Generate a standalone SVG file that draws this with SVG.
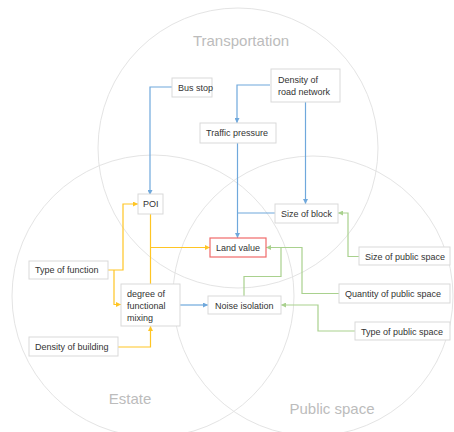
<svg xmlns="http://www.w3.org/2000/svg" width="454" height="432" viewBox="0 0 454 432">
  <style>
    .area { fill: none; stroke: #e4e4e4; stroke-width: 1; }
    .area-label { font-family: "Liberation Sans", Arial, sans-serif; font-size: 15px; fill: #bcbcbc; text-anchor: middle; }
    .box { fill: #ffffff; stroke: #d9d9d9; stroke-width: 1; }
    .box-key { fill: #ffffff; stroke: #f06a6a; stroke-width: 1.2; }
    .label { font-family: "Liberation Sans", Arial, sans-serif; font-size: 9px; fill: #333333; }
    .blue { fill: none; stroke: #6fa8dc; stroke-width: 1.2; }
    .yellow { fill: none; stroke: #ffc524; stroke-width: 1.2; }
    .green { fill: none; stroke: #a9d18e; stroke-width: 1.2; }
  </style>
  <defs>
    <marker id="arrow-blue" viewBox="0 0 6 6" refX="6" refY="3" markerWidth="5" markerHeight="5" markerUnits="userSpaceOnUse" orient="auto">
      <path d="M0,0 L6,3 L0,6 z" fill="#6fa8dc"/>
    </marker>
    <marker id="arrow-yellow" viewBox="0 0 6 6" refX="6" refY="3" markerWidth="5" markerHeight="5" markerUnits="userSpaceOnUse" orient="auto">
      <path d="M0,0 L6,3 L0,6 z" fill="#ffc524"/>
    </marker>
    <marker id="arrow-green" viewBox="0 0 6 6" refX="6" refY="3" markerWidth="5" markerHeight="5" markerUnits="userSpaceOnUse" orient="auto">
      <path d="M0,0 L6,3 L0,6 z" fill="#a9d18e"/>
    </marker>
  </defs>

  <!-- three overlapping domains -->
  <g id="areas">
    <circle class="area" cx="238" cy="148" r="140"/>
    <circle class="area" cx="153" cy="296" r="141"/>
    <circle class="area" cx="313" cy="296" r="140"/>
    <text class="area-label" x="241" y="46">Transportation</text>
    <text class="area-label" x="130" y="404">Estate</text>
    <text class="area-label" x="332" y="414">Public space</text>
  </g>

  <!-- connectors -->
  <g id="connectors">
    <!-- transportation factors -->
    <path class="blue" d="M172,87 H150 V195" marker-end="url(#arrow-blue)"/>
    <path class="blue" d="M270,85 H237 V123" marker-end="url(#arrow-blue)"/>
    <path class="blue" d="M305.5,102 V204" marker-end="url(#arrow-blue)"/>
    <path class="blue" d="M237.5,143 V238" marker-end="url(#arrow-blue)"/>
    <path class="blue" d="M275,213 H237.5"/>
    <path class="blue" d="M180,305 H208" marker-end="url(#arrow-blue)"/>
    <!-- estate factors -->
    <path class="yellow" d="M150.5,213 V284"/>
    <path class="yellow" d="M150.5,247.5 H210" marker-end="url(#arrow-yellow)"/>
    <path class="yellow" d="M108,270 H123 V204 H138" marker-end="url(#arrow-yellow)"/>
    <path class="yellow" d="M114,270 V304.5 H121" marker-end="url(#arrow-yellow)"/>
    <path class="yellow" d="M118,347 H150.5 V326" marker-end="url(#arrow-yellow)"/>
    <!-- public space factors -->
    <path class="green" d="M359,256.5 H348 V213 H338" marker-end="url(#arrow-green)"/>
    <path class="green" d="M339,293.5 H302 V247.5 H266" marker-end="url(#arrow-green)"/>
    <path class="green" d="M244,296 V276.5 H281 V247.5"/>
    <path class="green" d="M355,331 H318 V305 H281" marker-end="url(#arrow-green)"/>
  </g>

  <!-- nodes -->
  <g id="bus-stop">
    <rect class="box" x="172" y="78" width="40" height="19"/>
    <text class="label" x="178" y="90.5">Bus stop</text>
  </g>
  <g id="road-density">
    <rect class="box" x="271" y="69" width="69" height="33"/>
    <text class="label" x="278" y="83">Density of</text>
    <text class="label" x="278" y="95">road network</text>
  </g>
  <g id="traffic-pressure">
    <rect class="box" x="200" y="123" width="76" height="20"/>
    <text class="label" x="206" y="136">Traffic pressure</text>
  </g>
  <g id="poi">
    <rect class="box" x="138" y="194" width="25" height="20"/>
    <text class="label" x="143" y="207">POI</text>
  </g>
  <g id="size-of-block">
    <rect class="box" x="275" y="204" width="63" height="19"/>
    <text class="label" x="281" y="216.5">Size of block</text>
  </g>
  <g id="land-value">
    <rect class="box-key" x="210" y="238" width="56" height="19"/>
    <text class="label" x="216" y="250.5">Land value</text>
  </g>
  <g id="type-of-function">
    <rect class="box" x="29" y="261" width="79" height="18"/>
    <text class="label" x="35" y="273">Type of function</text>
  </g>
  <g id="functional-mixing">
    <rect class="box" x="121" y="284" width="59" height="42"/>
    <text class="label" x="127" y="296.5">degree of</text>
    <text class="label" x="127" y="308.5">functional</text>
    <text class="label" x="127" y="320.5">mixing</text>
  </g>
  <g id="noise-isolation">
    <rect class="box" x="208" y="296" width="73" height="18"/>
    <text class="label" x="215" y="308.5">Noise isolation</text>
  </g>
  <g id="building-density">
    <rect class="box" x="29" y="337" width="89" height="19"/>
    <text class="label" x="35" y="349.5">Density of building</text>
  </g>
  <g id="public-space-size">
    <rect class="box" x="359" y="247" width="91" height="18"/>
    <text class="label" x="365" y="259.5">Size of public space</text>
  </g>
  <g id="public-space-quantity">
    <rect class="box" x="339" y="284" width="111" height="19"/>
    <text class="label" x="345" y="296.5">Quantity of public space</text>
  </g>
  <g id="public-space-type">
    <rect class="box" x="355" y="322" width="95" height="18"/>
    <text class="label" x="361" y="334.5">Type of public space</text>
  </g>
</svg>
